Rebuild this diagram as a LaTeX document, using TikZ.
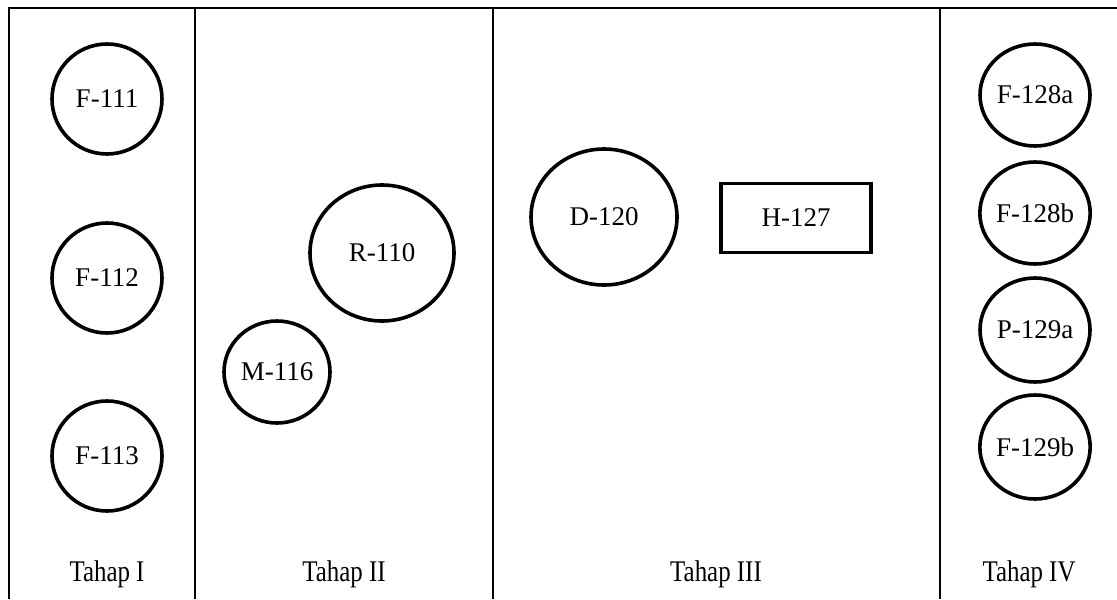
\documentclass[tikz,border=0pt]{standalone}
\usepackage{fontspec}
\usepackage{graphicx}
\setmainfont{Liberation Serif}
\usetikzlibrary{shapes.geometric}
\newcommand{\stagetext}[1]{\scalebox{0.83}[1]{#1}}
\begin{document}
\begin{tikzpicture}[x=0.5pt,y=-0.5pt,
  frame/.style={line width=1pt},
  unit/.style={draw,ellipse,line width=1.8pt,inner sep=0pt,font=\fontsize{13.5}{16}\selectfont},
  box/.style={draw,rectangle,line width=1.8pt,inner sep=0pt,font=\fontsize{13.5}{16}\selectfont},
  stage/.style={font=\fontsize{15}{18}\selectfont}]
\useasboundingbox (0,0) rectangle (1117,599);
% frame
\draw[frame] (8.5,599) -- (8.5,8.5) -- (1117,8.5);
\draw[frame] (195,8.5) -- (195,599);
\draw[frame] (493,8.5) -- (493,599);
\draw[frame] (940,8.5) -- (940,599);
% Tahap I
\node[unit,minimum width=55pt,minimum height=55pt] (f111) at (107,99) {F-111};
\node[unit,minimum width=55pt,minimum height=55pt] (f112) at (107,278) {F-112};
\node[unit,minimum width=55pt,minimum height=55pt] (f113) at (107,456) {F-113};
% Tahap II
\node[unit,minimum width=72pt,minimum height=68pt] (r110) at (382,253) {R-110};
\node[unit,minimum width=53pt,minimum height=51pt] (m116) at (277,372) {M-116};
% Tahap III
\node[unit,minimum width=73pt,minimum height=68pt] (d120) at (604,217) {D-120};
\node[box,minimum width=75pt,minimum height=34.5pt] (h127) at (796,218) {H-127};
% Tahap IV
\node[unit,minimum width=55pt,minimum height=51pt] (f128a) at (1035,95) {F-128a};
\node[unit,minimum width=55pt,minimum height=51pt] (f128b) at (1035,213) {F-128b};
\node[unit,minimum width=55pt,minimum height=52pt] (p129a) at (1035,330) {P-129a};
\node[unit,minimum width=55pt,minimum height=52pt] (f129b) at (1035,447) {F-129b};
% stage labels
\node[stage] (t1) at (107,574) {\stagetext{Tahap I}};
\node[stage] (t2) at (344,574) {\stagetext{Tahap II}};
\node[stage] (t3) at (716,574) {\stagetext{Tahap III}};
\node[stage] (t4) at (1029,574) {\stagetext{Tahap IV}};
\end{tikzpicture}
\end{document}
